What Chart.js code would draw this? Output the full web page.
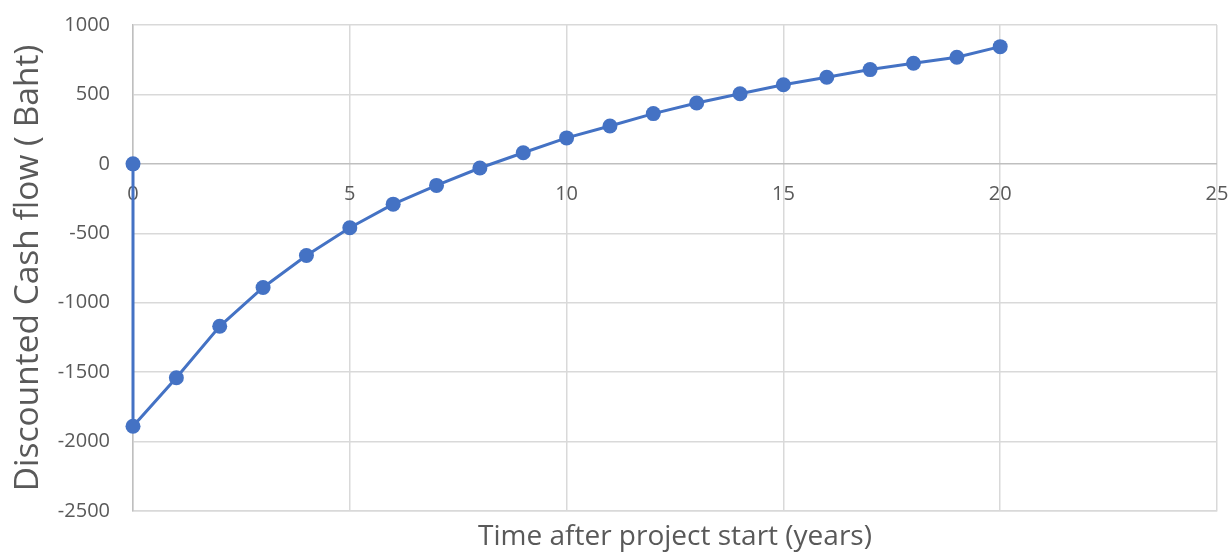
<!DOCTYPE html>
<html>
<head>
<meta charset="utf-8">
<script src="https://cdn.jsdelivr.net/npm/chart.js@4/dist/chart.umd.min.js"></script>
<style>
  html, body { margin: 0; padding: 0; background: #ffffff; }
  #wrap { width: 1230px; height: 552px; }
</style>
</head>
<body>
<div id="wrap"><canvas id="c" width="1230" height="552"></canvas></div>
<script>
// Discounted cash flow per year after project start (Baht)
const years = [0, 0, 1, 2, 3, 4, 5, 6, 7, 8, 9, 10, 11, 12, 13, 14, 15, 16, 17, 18, 19, 20];
const discountedCashFlow = [0, -1890, -1540, -1170, -890, -660, -460, -290, -155, -30, 80, 187, 273, 362, 438, 505, 570, 624, 679, 725, 768, 844];

// Axis ranges: [min, max, step]
const xRange = [0, 25, 5];
const yRange = [-2500, 1000, 500];

const xTitle = 'Time after project start (years)';
const yTitle = 'Discounted Cash flow ( Baht)';

const points = years.map((x, i) => ({ x: x, y: discountedCashFlow[i] }));

const FONT = "'Open Sans', sans-serif";
const TEXT = '#595959';
const GRID = '#d9d9d9';
const AXIS = '#bfbfbf';
const plain = v => String(v);   // no thousands separators

new Chart(document.getElementById('c'), {
  type: 'scatter',
  data: {
    datasets: [{
      data: points,
      showLine: true,
      borderColor: '#4472C4',
      borderWidth: 3,
      pointRadius: 7.5,
      pointBackgroundColor: '#4472C4',
      pointBorderWidth: 0,
      clip: false,
      xAxisID: 'x',
      yAxisID: 'y'
    }]
  },
  options: {
    responsive: false,
    animation: false,
    layout: { padding: { top: 25, right: 13, bottom: 0, left: 0 }, autoPadding: false },
    plugins: { legend: { display: false }, tooltip: { enabled: false } },
    scales: {
      // bottom axis: vertical grid lines and the axis title
      x: {
        type: 'linear',
        position: 'bottom',
        min: xRange[0], max: xRange[1],
        ticks: { display: false, stepSize: xRange[2] },
        grid: { color: GRID, lineWidth: 1.5, drawTicks: false },
        border: { color: GRID, width: 1.5 },
        title: {
          display: true, text: xTitle, color: TEXT,
          font: { family: FONT, size: 28, lineHeight: 1.05 }, padding: { top: 0, bottom: 0 }
        },
        afterFit: s => { s.height = 41; }
      },
      // tick labels sitting under the zero line
      x2: {
        type: 'linear',
        position: { y: 0 },
        min: xRange[0], max: xRange[1],
        ticks: { stepSize: xRange[2], color: TEXT, font: { family: FONT, size: 20 }, padding: 0, callback: plain },
        grid: { display: false, drawTicks: true, tickLength: 18, tickColor: 'rgba(0,0,0,0)' },
        border: { display: false }
      },
      y: {
        type: 'linear',
        position: 'left',
        min: yRange[0], max: yRange[1],
        ticks: { stepSize: yRange[2], color: TEXT, font: { family: FONT, size: 20 }, padding: 1, callback: plain },
        grid: {
          color: ctx => (ctx.tick && ctx.tick.value === 0 ? AXIS : GRID),
          lineWidth: 1.5,
          drawTicks: true,
          tickLength: 22,
          tickColor: 'rgba(0,0,0,0)'
        },
        border: { color: AXIS, width: 1.5 },
        title: {
          display: true, text: yTitle, color: TEXT,
          font: { family: FONT, size: 33.5 }, padding: { top: 8, bottom: 0 }
        },
        afterFit: s => { s.width = 133; }
      }
    }
  }
});
</script>
</body>
</html>
